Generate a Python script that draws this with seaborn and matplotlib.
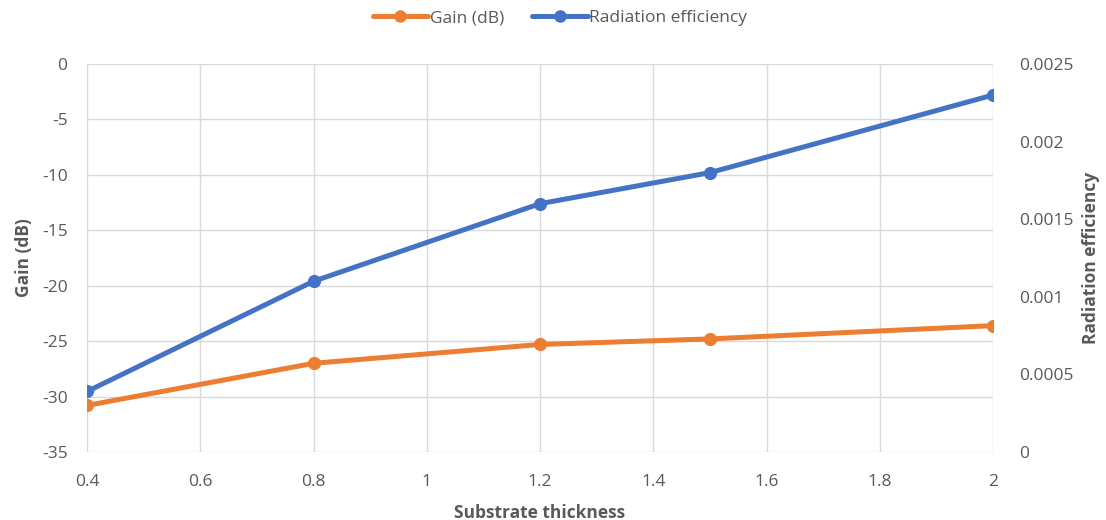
import matplotlib
matplotlib.use("Agg")
import matplotlib.pyplot as plt
import seaborn as sns
import pandas as pd
from matplotlib.lines import Line2D

thickness = [0.4, 0.8, 1.2, 1.5, 2.0]
gain_db = [-30.8, -27.0, -25.3, -24.8, -23.6]
rad_eff = [0.00039, 0.0011, 0.0016, 0.0018, 0.0023]

gain_ticks = [0, -5, -10, -15, -20, -25, -30, -35]
eff_ticks = [0, 0.0005, 0.001, 0.0015, 0.002, 0.0025]
eff_labels = ["0", "0.0005", "0.001", "0.0015", "0.002", "0.0025"]
x_ticks = [0.4, 0.6, 0.8, 1.0, 1.2, 1.4, 1.6, 1.8, 2.0]
x_labels = ["0.4", "0.6", "0.8", "1", "1.2", "1.4", "1.6", "1.8", "2"]

sns.set_theme(style="white")
plt.rcParams['font.family'] = ['Open Sans', 'DejaVu Sans']

ORANGE = "#ED7D31"
BLUE = "#4472C4"
TXT = "#595959"
GRID = "#D9D9D9"
FS = 12.5

df = pd.DataFrame({"thickness": thickness, "gain": gain_db, "eff": rad_eff})

fig = plt.figure(figsize=(11.06, 5.20), dpi=100)
ax = fig.add_axes([87/1106, 68/520, (993-87)/1106, (452-64)/520])
ax2 = ax.twinx()

sns.lineplot(data=df, x="thickness", y="gain", ax=ax, color=ORANGE, lw=3.6,
             marker="o", markersize=9.5, markeredgewidth=0, zorder=3)
sns.lineplot(data=df, x="thickness", y="eff", ax=ax2, color=BLUE, lw=3.6,
             marker="o", markersize=9.5, markeredgewidth=0, zorder=3)

ax.set_xlim(0.4, 2.0)
ax.set_ylim(-35, 0)
ax2.set_ylim(0, 0.0025)
ax.set_xticks(x_ticks)
ax.set_xticklabels(x_labels)
ax.set_yticks(gain_ticks)
ax.set_yticklabels([str(t) for t in gain_ticks])
ax2.set_yticks(eff_ticks)
ax2.set_yticklabels(eff_labels)

ax.grid(True, color=GRID, lw=1)
ax2.grid(False)
for a in (ax, ax2):
    for s in a.spines.values():
        s.set_visible(False)
    a.tick_params(length=0, labelsize=FS, colors=TXT)
ax.tick_params(axis="x", pad=16)
ax.tick_params(axis="y", pad=14)
ax2.tick_params(axis="y", pad=19)

ax.set_xlabel("Substrate thickness", fontsize=FS, fontweight="bold", color=TXT, labelpad=10)
ax.set_ylabel("Gain (dB)", fontsize=FS, fontweight="bold", color=TXT, labelpad=6)
ax2.set_ylabel("Radiation efficiency", fontsize=FS, fontweight="bold", color=TXT, labelpad=6)

handles = [Line2D([], [], color=ORANGE, lw=3.6, marker="o", markersize=8),
           Line2D([], [], color=BLUE, lw=3.6, marker="o", markersize=8)]
fig.legend(handles, ["Gain (dB)", "Radiation efficiency"], loc="center",
           bbox_to_anchor=(560/1106, 1 - 18/520), ncol=2, frameon=False,
           fontsize=FS, labelcolor=TXT, handlelength=3.2, handletextpad=0.1,
           columnspacing=1.6)

fig.savefig("out.png", dpi=100)
